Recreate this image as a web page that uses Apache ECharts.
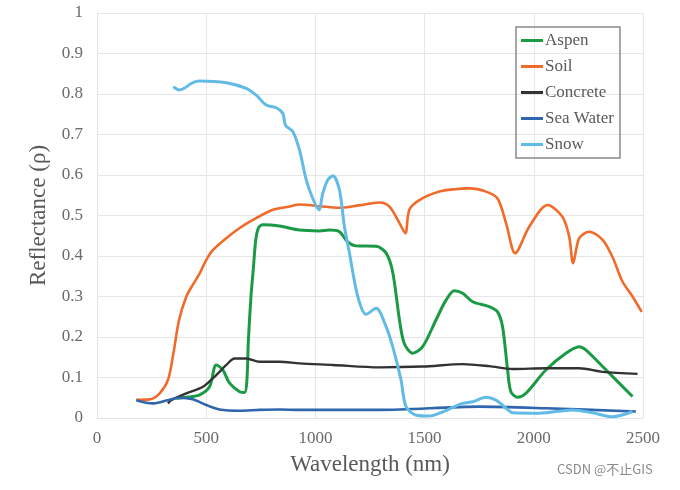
<!DOCTYPE html>
<html><head><meta charset="utf-8">
<script src="https://cdn.jsdelivr.net/npm/echarts@6/dist/echarts.min.js"></script>
<style>html,body{margin:0;padding:0;background:#fff}#c{width:680px;height:490px}</style>
</head><body><div id="c"></div>
<script>
const seriesNames = ['Aspen', 'Soil', 'Concrete', 'Sea Water', 'Snow'];
const xTicks = [0, 500, 1000, 1500, 2000, 2500];

const aspenX = [363, 420, 470, 515, 546, 576, 607, 653, 676, 686, 693, 705, 716, 727, 740, 760, 836, 927, 1018, 1064, 1110, 1148, 1186, 1278, 1324, 1354, 1385, 1407, 1445, 1491, 1552, 1598, 1636, 1674, 1720, 1796, 1834, 1857, 1880, 1895, 1926, 1964, 2056, 2147, 2208, 2238, 2330, 2452];
const aspenY = [0.049, 0.052, 0.057, 0.077, 0.131, 0.119, 0.086, 0.065, 0.063, 0.09, 0.19, 0.3, 0.37, 0.44, 0.47, 0.477, 0.474, 0.464, 0.462, 0.464, 0.46, 0.435, 0.425, 0.424, 0.407, 0.36, 0.242, 0.184, 0.16, 0.176, 0.242, 0.291, 0.314, 0.308, 0.287, 0.275, 0.262, 0.225, 0.119, 0.065, 0.051, 0.061, 0.119, 0.16, 0.176, 0.168, 0.119, 0.053];

const soilX = [180, 241, 287, 325, 350, 375, 409, 440, 470, 500, 531, 592, 650, 714, 805, 881, 927, 1019, 1110, 1200, 1293, 1339, 1385, 1412, 1430, 1476, 1567, 1640, 1705, 1781, 1834, 1873, 1915, 1979, 2063, 2131, 2162, 2180, 2208, 2254, 2315, 2360, 2406, 2452, 2494];
const soilY = [0.045, 0.046, 0.061, 0.094, 0.16, 0.24, 0.3, 0.33, 0.357, 0.39, 0.415, 0.444, 0.468, 0.489, 0.514, 0.522, 0.527, 0.523, 0.519, 0.525, 0.532, 0.522, 0.481, 0.456, 0.514, 0.538, 0.559, 0.565, 0.567, 0.559, 0.542, 0.481, 0.407, 0.472, 0.526, 0.497, 0.448, 0.382, 0.444, 0.46, 0.44, 0.398, 0.337, 0.3, 0.262];

const concreteX = [325, 340, 409, 485, 546, 592, 630, 683, 744, 836, 927, 1080, 1293, 1491, 1674, 1796, 1903, 2056, 2208, 2315, 2475];
const concreteY = [0.036, 0.044, 0.061, 0.077, 0.106, 0.131, 0.147, 0.147, 0.139, 0.139, 0.135, 0.131, 0.125, 0.127, 0.133, 0.128, 0.121, 0.123, 0.123, 0.114, 0.109];

const seaX = [180, 256, 317, 378, 439, 500, 561, 653, 744, 836, 927, 1293, 1750, 2056, 2467];
const seaY = [0.044, 0.036, 0.043, 0.05, 0.046, 0.032, 0.021, 0.018, 0.02, 0.021, 0.02, 0.02, 0.028, 0.024, 0.016];

const snowX = [349, 378, 439, 470, 592, 683, 729, 775, 821, 851, 863, 897, 927, 958, 988, 1016, 1034, 1057, 1080, 1110, 1133, 1156, 1194, 1232, 1278, 1324, 1354, 1392, 1415, 1461, 1522, 1568, 1674, 1720, 1781, 1827, 1873, 1903, 2025, 2177, 2269, 2360, 2452];
const snowY = [0.818, 0.81, 0.828, 0.832, 0.828, 0.814, 0.797, 0.773, 0.766, 0.752, 0.723, 0.707, 0.662, 0.588, 0.542, 0.514, 0.555, 0.588, 0.598, 0.563, 0.472, 0.407, 0.30, 0.256, 0.271, 0.225, 0.176, 0.094, 0.028, 0.007, 0.005, 0.012, 0.036, 0.04, 0.051, 0.044, 0.024, 0.013, 0.012, 0.02, 0.013, 0.003, 0.016];

const colors = ['#1a9a45', '#f26a2a', '#333333', '#2f66ad', '#62bbe6'];
const widths = [3, 2.6, 2.4, 2.6, 3];
const xs = [aspenX, soilX, concreteX, seaX, snowX];
const ys = [aspenY, soilY, concreteY, seaY, snowY];

const font = '"Liberation Serif", "Times New Roman", serif';
const chart = echarts.init(document.getElementById('c'), null, {renderer: 'canvas'});
chart.setOption({
  animation: false,
  backgroundColor: '#fff',
  grid: {left: 97, right: 37, top: 13, bottom: 72},
  legend: {
    orient: 'vertical', left: 516, top: 27,
    data: seriesNames,
    icon: 'rect', itemWidth: 22, itemHeight: 3, itemGap: 9,
    padding: [5, 6, 5, 5],
    borderColor: '#8a8a8a', borderWidth: 1.5,
    textStyle: {fontFamily: font, fontSize: 17, color: '#595959', padding: [0, 0, 0, -3]}
  },
  xAxis: {
    type: 'value', min: xTicks[0], max: xTicks[xTicks.length - 1], interval: 500,
    name: 'Wavelength (nm)', nameLocation: 'middle', nameGap: 35,
    nameTextStyle: {fontFamily: font, fontSize: 23, color: '#595959'},
    axisLine: {show: true, lineStyle: {color: '#e3e3e3'}},
    axisTick: {show: false},
    axisLabel: {fontFamily: font, fontSize: 17, color: '#6a6a6a', margin: 12, formatter: v => String(v)},
    splitLine: {show: true, lineStyle: {color: '#e6e6e6'}}
  },
  yAxis: {
    type: 'value', min: 0, max: 1, interval: 0.1,
    name: 'Reflectance (ρ)', nameLocation: 'middle', nameGap: 47,
    nameTextStyle: {fontFamily: font, fontSize: 23, color: '#595959'},
    axisLine: {show: true, lineStyle: {color: '#e3e3e3'}},
    axisTick: {show: false},
    axisLabel: {fontFamily: font, fontSize: 17, color: '#6a6a6a', margin: 14},
    splitLine: {show: true, lineStyle: {color: '#e6e6e6'}}
  },
  series: seriesNames.map((n, i) => ({
    name: n, type: 'line', smooth: 0.3, showSymbol: false,
    data: xs[i].map((x, j) => [x, ys[i][j]]),
    lineStyle: {color: colors[i], width: widths[i]},
    itemStyle: {color: colors[i]}
  })),
  graphic: [{
    type: 'text', left: 557, top: 463,
    style: {text: 'CSDN @不止GIS', fontFamily: '"Noto Sans CJK SC", "Noto Sans", sans-serif', fontSize: 13, fill: '#8a8a8a'}
  }]
});
</script></body></html>
